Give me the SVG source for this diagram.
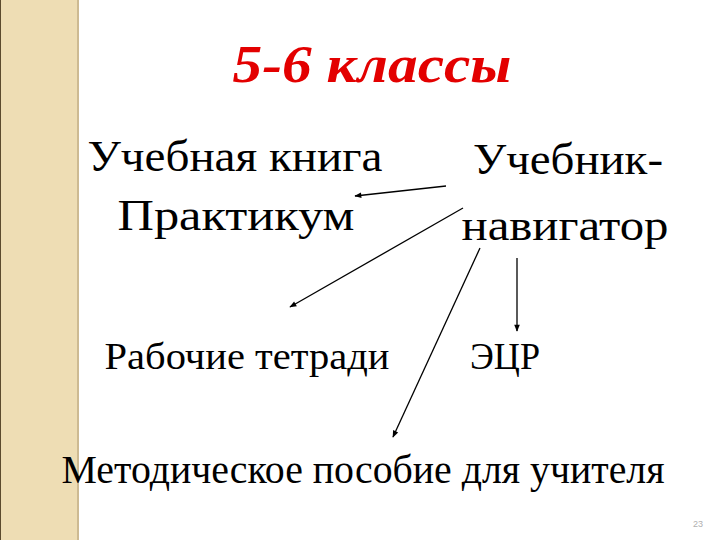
<svg xmlns="http://www.w3.org/2000/svg" width="720" height="540" viewBox="0 0 720 540">
<defs>
<style>
.t{font-family:"Liberation Serif","Times New Roman",serif;fill:#000}
.c{stroke:#000;stroke-width:1.3;fill:none;marker-end:url(#ah)}
</style>
<marker id="ah" viewBox="0 0 10 10" refX="9" refY="5" markerWidth="9" markerHeight="7" markerUnits="userSpaceOnUse" orient="auto">
<path d="M0,1 L10,5 L0,9 z" fill="#000"/>
</marker>
</defs>
<rect width="720" height="540" fill="#fff"/>
<g id="strip">
<rect x="0" y="0" width="78" height="540" fill="#EEDDB4"/>
<rect x="77" y="0" width="2" height="540" fill="#CDBA92"/>
<rect x="0" y="0" width="1" height="540" fill="#5b4a2e"/>
</g>
<g id="title"><text class="t" x="372" y="82" font-size="52" font-weight="bold" font-style="italic" style="fill:#E30000" text-anchor="middle" textLength="279" lengthAdjust="spacingAndGlyphs">5-6 классы</text></g>
<g id="n1"><text class="t" font-size="45" text-anchor="middle" lengthAdjust="spacingAndGlyphs"><tspan x="235" y="171" textLength="295" lengthAdjust="spacingAndGlyphs">Учебная книга</tspan><tspan x="236" y="230" textLength="237" lengthAdjust="spacingAndGlyphs">Практикум</tspan></text></g>
<g id="n2"><text class="t" font-size="45" text-anchor="middle"><tspan x="568" y="174" textLength="190" lengthAdjust="spacingAndGlyphs">Учебник-</tspan><tspan x="565" y="240" textLength="207" lengthAdjust="spacingAndGlyphs">навигатор</tspan></text></g>
<g id="n3"><text class="t" x="247" y="369" font-size="38" text-anchor="middle" textLength="285" lengthAdjust="spacingAndGlyphs">Рабочие тетради</text></g>
<g id="n4"><text class="t" x="505" y="369" font-size="38" text-anchor="middle" textLength="70" lengthAdjust="spacingAndGlyphs">ЭЦР</text></g>
<g id="n5"><text class="t" x="363" y="483" font-size="39" text-anchor="middle" textLength="603" lengthAdjust="spacingAndGlyphs">Методическое пособие для учителя</text></g>
<g id="page"><text x="698" y="527" font-family="Liberation Sans, Arial, sans-serif" font-size="9" fill="#b0b0b0" text-anchor="middle">23</text></g>
<g id="connectors">
<line class="c" x1="446" y1="186" x2="355" y2="196"/>
<line class="c" x1="463" y1="208" x2="290" y2="307"/>
<line class="c" x1="480" y1="248" x2="393" y2="437"/>
<line class="c" x1="517" y1="258" x2="517" y2="331"/>
</g>
</svg>
